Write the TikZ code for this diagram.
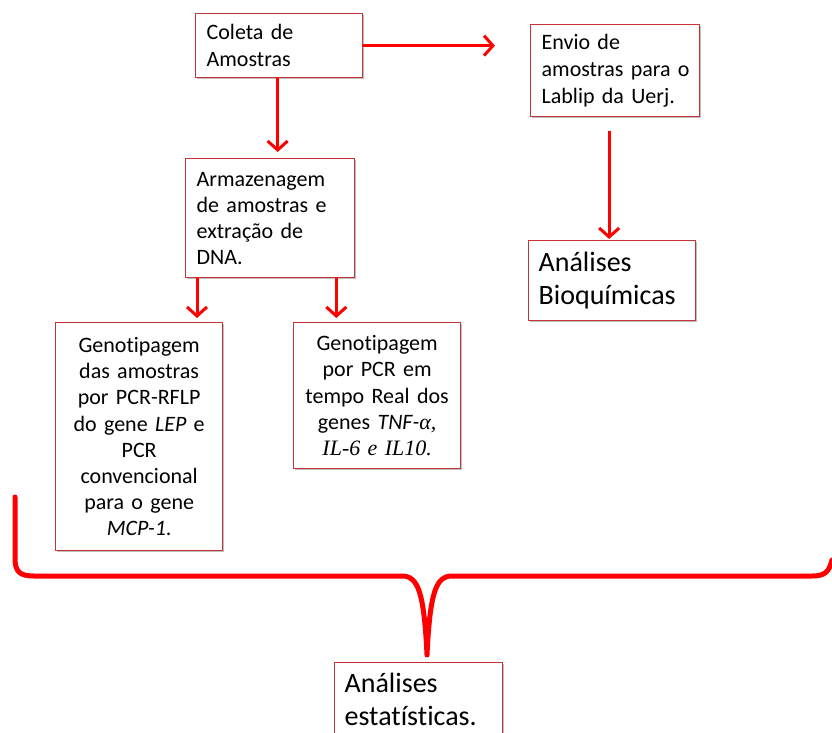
\documentclass[tikz,border=0pt]{standalone}
\usepackage{fontspec}
\setmainfont{Carlito}[Ligatures=NoCommon]
\newfontfamily\timesf{Liberation Serif}
\usetikzlibrary{arrows.meta,shadows,calc}
\definecolor{boxred}{RGB}{196,52,52}
\begin{document}
\begin{tikzpicture}[x=1pt,y=-1pt,
  box/.style={draw=boxred, line width=1.3pt, fill=white,
    drop shadow={shadow xshift=1.5pt, shadow yshift=-1.5pt, opacity=0.25, fill=black},
    inner xsep=11pt, inner ysep=0pt, anchor=north west, align=left,
    font=\fontsize{22}{27}\selectfont},
  bigbox/.style={box, inner xsep=10pt, font=\fontsize{28}{33}\selectfont},
  cbox/.style={box, inner xsep=8.5pt, align=center, text width=150pt, font=\fontsize{22}{26.2}\selectfont},
  arr/.style={draw=red, line width=3pt, -{Straight Barb[length=9pt,width=20pt]}},
  brace/.style={draw=red, line width=5pt, line join=round, line cap=round}
]
\useasboundingbox (0,0) rectangle (832,733);

\node[box, text width=145pt, minimum height=64pt] (coleta) at (195,13)
  {Coleta de\\Amostras};
\node[box, text width=147pt, minimum height=92pt] (envio) at (530,24)
  {Envio de\\\mbox{amostras para o}\\Lablip da Uerj.};
\node[box, text width=147pt, minimum height=119pt, font=\fontsize{22}{26}\selectfont] (armaz) at (185,158)
  {Armazenagem\\de amostras e\\extração de\\DNA.};
\node[bigbox, text width=147pt, minimum height=80pt] (bioq) at (528,240)
  {Análises\\Bioquímicas};
\node[cbox, minimum height=228pt] (gen1) at (55,322)
  {Genotipagem\\das amostras\\por PCR-RFLP\\do gene \textit{LEP} e\\PCR\\convencional\\para o gene\\\textit{MCP-1}.};
\node[cbox, minimum height=146pt] (gen2) at (293,322)
  {Genotipagem\\por PCR em\\tempo Real dos\\genes \textit{TNF-}{\timesf\itshape α,}\\{\timesf\itshape IL-6 e IL10.}};
\node[bigbox, text width=148pt, minimum height=74pt] (estat) at (334,662)
  {Análises\\estatísticas.};

\draw[arr] (coleta.east) -- ([xshift=-35pt]envio.west |- coleta.east);
\draw[arr] ([xshift=-1.5pt]coleta.south) -- ([xshift=-1.5pt,yshift=6pt]coleta.south |- armaz.north);
\draw[arr] ([xshift=-6pt,yshift=-14pt]envio.south) -- ([xshift=-6pt,yshift=1pt]envio.south |- bioq.north);
\draw[arr] ([xshift=12pt]armaz.south west) -- ([xshift=12pt,yshift=4pt]armaz.south west |- gen1.north);
\draw[arr] ([xshift=-19pt]armaz.south east) -- ([xshift=-19pt,yshift=4pt]armaz.south east |- gen2.north);

\draw[brace] (15,497) -- (15,558) .. controls (15,572) and (20,576) .. (34,576)
  -- (402,576) .. controls (418,576) and (424,592) .. (427,655)
  .. controls (430,592) and (436,576) .. (452,576)
  -- (812,576) .. controls (826,576) and (829,571) .. (832,560);
\end{tikzpicture}
\end{document}
